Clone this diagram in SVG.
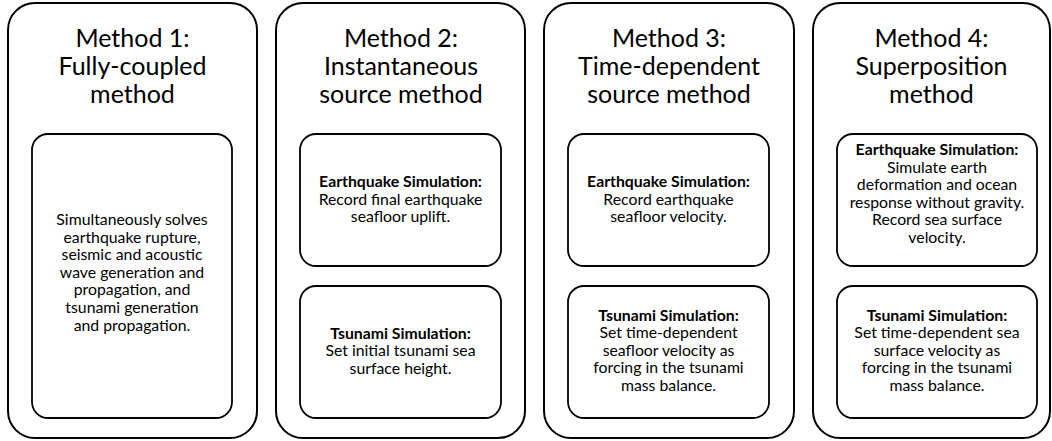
<svg xmlns="http://www.w3.org/2000/svg" width="1052" height="441" viewBox="0 0 1052 441">
<style>
.outer{fill:#fff;stroke:#000;stroke-width:2}
.inner{fill:#fff;stroke:#000;stroke-width:1.8}
.title{font-family:Lato,"Open Sans",sans-serif;font-size:25px;fill:#000;text-anchor:middle}
.body{font-family:Lato,"Open Sans",sans-serif;font-size:15.8px;fill:#000;text-anchor:middle}
.b{font-weight:bold}
</style>
<rect width="1052" height="441" fill="#fff"/>
<g id="connectors"></g>
<g id="method1">
<rect class="outer" x="8" y="3" width="249" height="435" rx="27"/>
<text class="title" x="132.5"><tspan x="132.5" y="47">Method 1:</tspan><tspan x="132.5" y="75">Fully-coupled</tspan><tspan x="132.5" y="103">method</tspan></text>
<g id="m1-box">
<rect class="inner" x="32" y="134" width="200" height="284" rx="16"/>
<text class="body"><tspan x="132" y="225">Simultaneously solves</tspan><tspan x="132" y="242.6">earthquake rupture,</tspan><tspan x="132" y="260.2">seismic and acoustic</tspan><tspan x="132" y="277.8">wave generation and</tspan><tspan x="132" y="295.4">propagation, and</tspan><tspan x="132" y="313">tsunami generation</tspan><tspan x="132" y="330.6">and propagation.</tspan></text>
</g>
</g>
<g id="method2">
<rect class="outer" x="276" y="3" width="249" height="435" rx="27"/>
<text class="title"><tspan x="401" y="47">Method 2:</tspan><tspan x="401" y="75">Instantaneous</tspan><tspan x="401" y="103">source method</tspan></text>
<g id="m2-eq">
<rect class="inner" x="300" y="134" width="201" height="132" rx="16"/>
<text class="body"><tspan class="b" x="400.5" y="187">Earthquake Simulation:</tspan><tspan x="400.5" y="204.5">Record final earthquake</tspan><tspan x="400.5" y="222">seafloor uplift.</tspan></text>
</g>
<g id="m2-ts">
<rect class="inner" x="300" y="286" width="201" height="132" rx="16"/>
<text class="body"><tspan class="b" x="400.5" y="338.5">Tsunami Simulation:</tspan><tspan x="400.5" y="356">Set initial tsunami sea</tspan><tspan x="400.5" y="373.5">surface height.</tspan></text>
</g>
</g>
<g id="method3">
<rect class="outer" x="544" y="3" width="250" height="435" rx="27"/>
<text class="title"><tspan x="669" y="47">Method 3:</tspan><tspan x="669" y="75">Time-dependent</tspan><tspan x="669" y="103">source method</tspan></text>
<g id="m3-eq">
<rect class="inner" x="568" y="134" width="201" height="132" rx="16"/>
<text class="body"><tspan class="b" x="668.5" y="187">Earthquake Simulation:</tspan><tspan x="668.5" y="204.5">Record earthquake</tspan><tspan x="668.5" y="222">seafloor velocity.</tspan></text>
</g>
<g id="m3-ts">
<rect class="inner" x="568" y="286" width="201" height="132" rx="16"/>
<text class="body"><tspan class="b" x="668.5" y="320.5">Tsunami Simulation:</tspan><tspan x="668.5" y="338">Set time-dependent</tspan><tspan x="668.5" y="355.5">seafloor velocity as</tspan><tspan x="668.5" y="373">forcing in the tsunami</tspan><tspan x="668.5" y="390.5">mass balance.</tspan></text>
</g>
</g>
<g id="method4">
<rect class="outer" x="813" y="3" width="237" height="435" rx="27"/>
<text class="title"><tspan x="931.5" y="47">Method 4:</tspan><tspan x="931.5" y="75">Superposition</tspan><tspan x="931.5" y="103">method</tspan></text>
<g id="m4-eq">
<rect class="inner" x="837" y="134" width="200" height="132" rx="16"/>
<text class="body"><tspan class="b" x="937" y="155">Earthquake Simulation:</tspan><tspan x="937" y="172.6">Simulate earth</tspan><tspan x="937" y="190.2">deformation and ocean</tspan><tspan x="937" y="207.8">response without gravity.</tspan><tspan x="937" y="225.4">Record sea surface</tspan><tspan x="937" y="243">velocity.</tspan></text>
</g>
<g id="m4-ts">
<rect class="inner" x="837" y="286" width="200" height="132" rx="16"/>
<text class="body"><tspan class="b" x="937" y="320.5">Tsunami Simulation:</tspan><tspan x="937" y="338">Set time-dependent sea</tspan><tspan x="937" y="355.5">surface velocity as</tspan><tspan x="937" y="373">forcing in the tsunami</tspan><tspan x="937" y="390.5">mass balance.</tspan></text>
</g>
</g>
</svg>
